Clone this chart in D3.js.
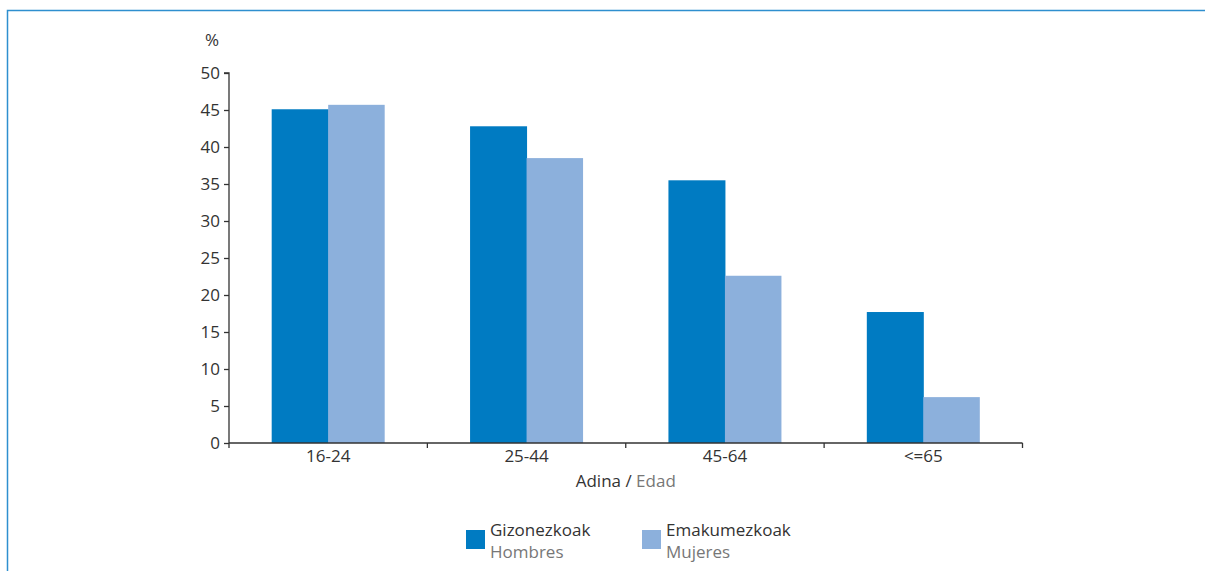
<!DOCTYPE html>
<html><head><meta charset="utf-8">
<script src="https://cdn.jsdelivr.net/npm/d3@7/dist/d3.min.js"></script>
<style>
html,body{margin:0;padding:0;background:#fff;}
svg{display:block;font-family:"Open Sans","Noto Sans",sans-serif;}
</style></head>
<body>
<svg id="c" width="1205" height="571"></svg>
<script>
const categories = ["16-24","25-44","45-64","<=65"];
const seriesNames = ["Gizonezkoak","Emakumezkoak"];
const seriesSub = ["Hombres","Mujeres"];
const men = [45.1, 42.8, 35.5, 17.7];
const women = [45.7, 38.5, 22.6, 6.2];
const yTicks = [0,5,10,15,20,25,30,35,40,45,50];
const colors = ["#007bc2","#8cb0dc"];

(function(){
const FS = "17px";
const svg = d3.select("#c");
// frame
svg.append("path").attr("d","M7.5,571V10.5H1205").attr("fill","none").attr("stroke","#2e8fcf").attr("stroke-width",1.5);

const pL=229, pR=1022.5, pT=73, pB=443;
const x = d3.scaleBand().domain(categories).range([pL,pR]).paddingInner(0).paddingOuter(0);
const y = d3.scaleLinear().domain([0,50]).range([pB,pT]);
const inner = d3.scaleBand().domain([0,1]).range([0,113]);
const groupOff = (x.bandwidth()-113)/2;

const data = categories.map((c,i)=>({c, v:[men[i],women[i]]}));
const g = svg.append("g");
data.forEach(d=>{
  d.v.forEach((v,j)=>{
    g.append("rect")
      .attr("x", x(d.c)+groupOff+inner(j))
      .attr("y", y(v))
      .attr("width", inner.bandwidth()+ (j===0?0.5:0))
      .attr("height", y(0)-y(v))
      .attr("fill", colors[j]);
  });
});

// y axis
const ya = svg.append("g").attr("transform",`translate(${pL},0)`)
  .call(d3.axisLeft(y).tickValues(yTicks).tickSize(5).tickPadding(4).tickFormat(d3.format("d")));
ya.select(".domain").attr("stroke","#333").attr("stroke-width",1.3).attr("d",`M-5,${pT}H0V${pB}`);
ya.selectAll(".tick line").attr("stroke","#333").attr("stroke-width",1.3);
ya.selectAll("text").attr("fill","#333").style("font-size",FS).style("font-family","'Open Sans','Noto Sans',sans-serif");

// x axis
const xa = svg.append("g").attr("transform",`translate(0,${pB})`)
  .call(d3.axisBottom(x).tickSize(0).tickPadding(7));
xa.select(".domain").attr("stroke","#333").attr("stroke-width",1.3).attr("d",`M${pL},0H${pR}`);
xa.selectAll("text").attr("fill","#333").style("font-size",FS).style("font-family","'Open Sans','Noto Sans',sans-serif");
// boundary ticks
const bounds = categories.map(c=>x(c)).concat([pR]);
svg.append("g").selectAll("line").data(bounds).join("line")
  .attr("x1",d=>d).attr("x2",d=>d).attr("y1",pB).attr("y2",pB+5)
  .attr("stroke","#333").attr("stroke-width",1.3);

// % label
svg.append("text").attr("x",212).attr("y",46).attr("text-anchor","middle")
  .attr("fill","#333").style("font-size",FS).text("%");

// x title
const xt = svg.append("text").attr("x",(pL+pR)/2).attr("y",487).attr("text-anchor","middle").style("font-size",FS);
xt.append("tspan").attr("fill","#333").text("Adina / ");
xt.append("tspan").attr("fill","#777").text("Edad");

// legend
const lx = [466, 642];
seriesNames.forEach((n,i)=>{
  svg.append("rect").attr("x",lx[i]).attr("y",530).attr("width",19).attr("height",19).attr("fill",colors[i]);
  svg.append("text").attr("x",lx[i]+24).attr("y",536).attr("fill","#333").style("font-size",FS).text(n);
  svg.append("text").attr("x",lx[i]+24).attr("y",558).attr("fill","#777").style("font-size",FS).text(seriesSub[i]);
});
})();
</script>
</body></html>
